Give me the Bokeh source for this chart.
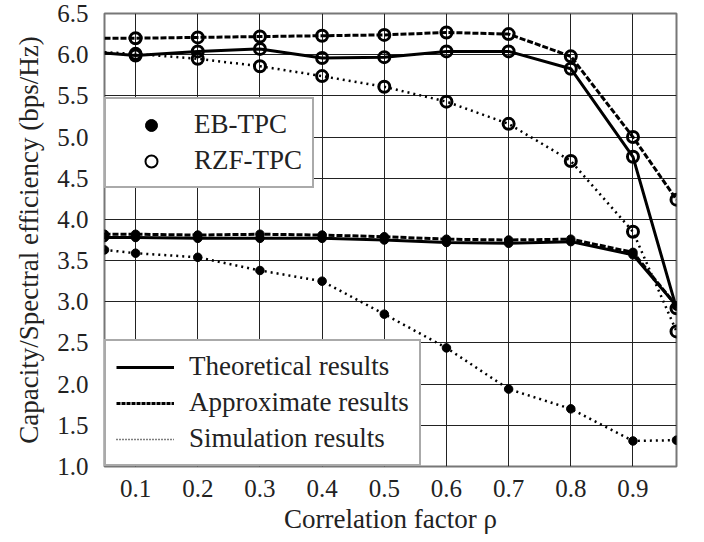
from bokeh.plotting import figure
from bokeh.models import Legend, LegendItem, FixedTicker, PrintfTickFormatter, Range1d
from bokeh.embed import file_html
from bokeh.resources import INLINE

# ---- data ----
rho = [0.05, 0.1, 0.2, 0.3, 0.4, 0.5, 0.6, 0.7, 0.8, 0.9, 0.97]

eb_theory = [3.78, 3.78, 3.77, 3.77, 3.77, 3.75, 3.72, 3.71, 3.73, 3.57, 2.95]
eb_approx = [3.82, 3.82, 3.81, 3.82, 3.81, 3.79, 3.76, 3.75, 3.76, 3.60, 2.95]
eb_sim = [3.63, 3.59, 3.54, 3.38, 3.25, 2.85, 2.44, 1.94, 1.70, 1.31, 1.32]

rzf_theory = [6.02, 5.99, 6.04, 6.07, 5.96, 5.97, 6.04, 6.04, 5.83, 4.76, 2.92]
rzf_approx = [6.20, 6.20, 6.21, 6.22, 6.23, 6.24, 6.27, 6.25, 5.98, 5.00, 4.24]
rzf_sim = [6.03, 6.01, 5.95, 5.86, 5.74, 5.61, 5.43, 5.16, 4.71, 3.85, 2.64]

x_ticks = [0.1, 0.2, 0.3, 0.4, 0.5, 0.6, 0.7, 0.8, 0.9]
y_ticks = [1.0, 1.5, 2.0, 2.5, 3.0, 3.5, 4.0, 4.5, 5.0, 5.5, 6.0, 6.5]

FONT = "Liberation Serif"

p = figure(width=704, height=542, output_backend="svg", toolbar_location=None,
           x_range=Range1d(0.05, 0.97), y_range=Range1d(1.0, 6.5),
           min_border_left=104, min_border_right=28, min_border_top=13, min_border_bottom=76,
           x_axis_label="Correlation factor ρ",
           y_axis_label="Capacity/Spectral efficiency (bps/Hz)")

p.background_fill_color = "white"
p.border_fill_color = "white"
p.outline_line_color = "#777777"
p.outline_line_width = 2

p.xaxis.ticker = FixedTicker(ticks=x_ticks)
p.yaxis.ticker = FixedTicker(ticks=y_ticks)
p.xaxis.formatter = PrintfTickFormatter(format="%.1f")
p.yaxis.formatter = PrintfTickFormatter(format="%.1f")

for ax in p.axis:
    ax.axis_line_color = None
    ax.major_tick_line_color = None
    ax.minor_tick_line_color = None
    ax.major_tick_in = 0
    ax.major_tick_out = 0
    ax.minor_tick_in = 0
    ax.minor_tick_out = 0
    ax.major_label_text_font = FONT
    ax.major_label_text_font_size = "25px"
    ax.major_label_text_font_style = "normal"
    ax.major_label_text_color = "#222222"
    ax.axis_label_text_font = FONT
    ax.axis_label_text_font_size = "27px"
    ax.axis_label_text_font_style = "normal"
    ax.axis_label_text_color = "#222222"

p.xaxis.major_label_standoff = 13
p.xaxis.axis_label_standoff = 4
p.yaxis.major_label_standoff = 16
p.yaxis.axis_label_standoff = 10

p.grid.grid_line_color = "#222222"
p.grid.grid_line_width = 1
p.grid.grid_line_alpha = 1

SOLID = dict(line_color="black", line_width=3)
DASH = dict(line_color="black", line_width=3, line_dash="6 2")
DOT = dict(line_color="black", line_width=2.5, line_dash="2 4")

# EB-TPC
p.line(rho, eb_sim, **DOT)
p.line(rho, eb_approx, **DASH)
p.line(rho, eb_theory, **SOLID)
# RZF-TPC
p.line(rho, rzf_sim, **DOT)
p.line(rho, rzf_approx, **DASH)
p.line(rho, rzf_theory, **SOLID)

for ys in (eb_sim, eb_approx, eb_theory):
    p.scatter(rho, ys, size=8.5, fill_color="black", line_color="black", line_width=1)
for ys in (rzf_sim, rzf_approx, rzf_theory):
    p.scatter(rho[1:], ys[1:], size=11, fill_color=None, line_color="black", line_width=3)

# off-range sample renderers used only for the legend glyphs
off_x = [-1.0]
off_y = [0.0]
d_eb = p.scatter(off_x, off_y, size=8, fill_color="black", line_color="black")
d_rzf = p.scatter(off_x, off_y, size=11, fill_color=None, line_color="black", line_width=2)
d_th = p.line(off_x * 2, off_y * 2, line_color="black", line_width=3)
d_ap = p.line(off_x * 2, off_y * 2, line_color="black", line_width=3, line_dash="4 1")
d_si = p.line(off_x * 2, off_y * 2, line_color="black", line_width=1.5, line_dash="1 2")

common = dict(label_text_font=FONT, label_text_font_size="27px", label_text_color="#222222",
              padding=10, spacing=5, label_height=30, glyph_height=30, margin=0,
              border_line_color="#555555", border_line_width=2,
              background_fill_color="white", background_fill_alpha=1.0)

leg1 = Legend(items=[LegendItem(label="EB-TPC", renderers=[d_eb]),
                     LegendItem(label="RZF-TPC", renderers=[d_rzf])],
              location=(0, 278), glyph_width=70, label_standoff=8, **common)
leg2 = Legend(items=[LegendItem(label="Theoretical results", renderers=[d_th]),
                     LegendItem(label="Approximate results", renderers=[d_ap]),
                     LegendItem(label="Simulation results", renderers=[d_si])],
              location=(0, 0), glyph_width=58, label_standoff=15, **common)
p.add_layout(leg1, "center")
p.add_layout(leg2, "center")

open("out.html", "w").write(file_html(p, INLINE))
